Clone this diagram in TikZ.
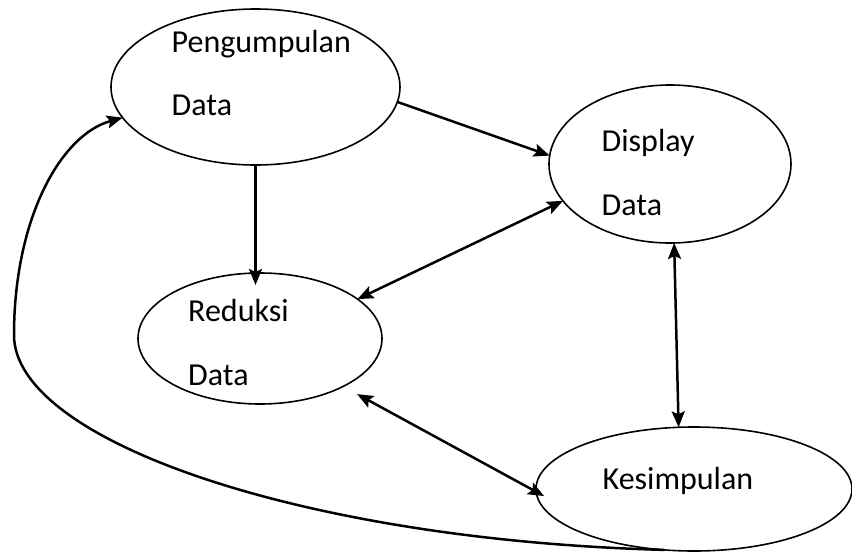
\documentclass[tikz,border=0pt]{standalone}
\usepackage{fontspec}
\setmainfont{Carlito}
\usetikzlibrary{shapes.geometric, arrows.meta}
\tikzset{
  blob/.style={ellipse, draw, line width=1.6pt, inner sep=0pt, outer sep=0pt},
  word/.style={anchor=base west, inner sep=0pt, font=\fontsize{32}{38}\selectfont},
  tip/.tip={Stealth[length=16pt, width=13pt, inset=3pt]},
  flow/.style={line width=2.5pt, -tip},
  twoway/.style={line width=2.5pt, tip-tip}
}

\begin{document}
\begin{tikzpicture}[x=1pt, y=-1pt]
            \useasboundingbox (0,0) rectangle (852,552);
            % the four stages
            \node[blob, minimum width=289pt, minimum height=156pt] (pengumpulan) at (255.5,87) {};
            \node[blob, minimum width=242pt, minimum height=158pt] (display) at (670,164) {};
            \node[blob, minimum width=244pt, minimum height=131pt] (reduksi) at (260,338.5) {};
            \node[blob, minimum width=316pt, minimum height=124pt] (kesimpulan) at (694,489) {};
            % their labels
            \node[word] (pengumpulanA) at (171.5,52) {Pengumpulan};
            \node[word] (pengumpulanB) at (171.5,115) {Data};
            \node[word] (displayA) at (601.5,151) {Display};
            \node[word] (displayB) at (601.5,215) {Data};
            \node[word] (reduksiA) at (188,321.5) {Reduksi};
            \node[word] (reduksiB) at (188,385) {Data};
            \node[word] (kesimpulanA) at (602.5,489) {Kesimpulan};
            % arrows
            \draw[flow] (pengumpulan.-6) -- (display.176);
            \draw[flow, shorten >=-12pt] (pengumpulan.south) -- (pengumpulan.south |- reduksi.north);
            \draw[twoway] (display.199) -- (reduksi.22);
            \draw[twoway] (display.-87) -- (kesimpulan.104);
            \draw[twoway, shorten <=16pt, shorten >=-9pt] (reduksi.-30.5) -- (kesimpulan.181);
            \draw[flow] (kesimpulan.-116) .. controls (300,540) and (14,440) .. (14,335)
                .. controls (14,220) and (60,135) .. (pengumpulan.193);
\end{tikzpicture}
\end{document}
